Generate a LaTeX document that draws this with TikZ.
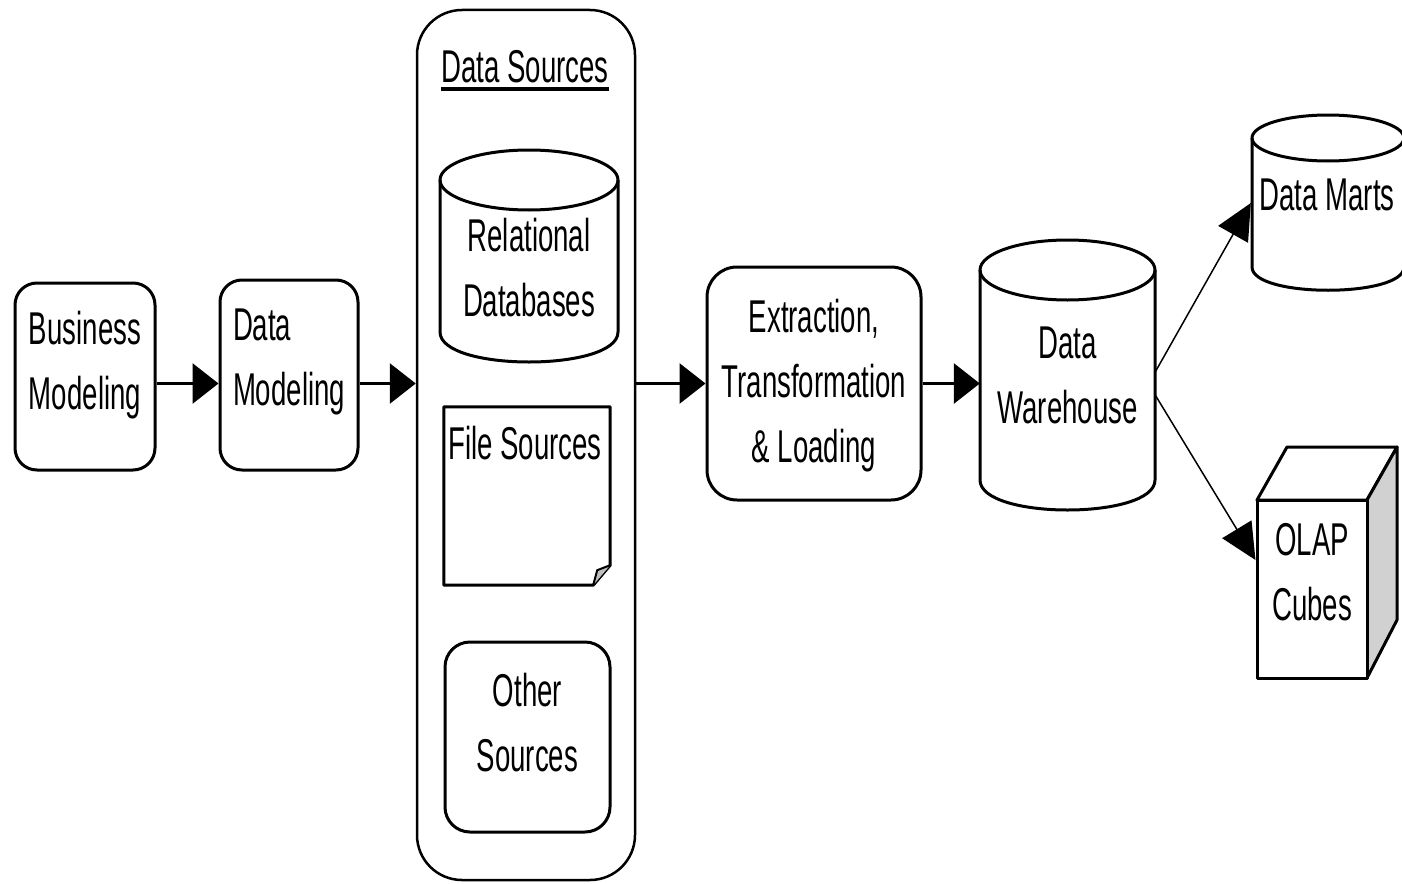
\documentclass[tikz,border=0pt]{standalone}
\usepackage{fontspec}
\setmainfont{Liberation Sans}[FakeStretch=0.6]
\usetikzlibrary{arrows.meta,calc}
\begin{document}
\begin{tikzpicture}[x=1pt,y=-1pt,line join=round,
  every node/.style={font=\fontsize{46}{65}\selectfont, inner sep=0pt},
  box/.style={draw, line width=3pt, rounded corners=22pt},
  shapeline/.style={draw, line width=3pt},
  flow/.style={line width=3pt, -{Triangle[length=26pt,width=40pt]}},
  thinflow/.style={line width=1.5pt, -{Triangle[length=36pt,width=34pt]}}]
\useasboundingbox (0,0) rectangle (1402,883);

% left boxes
\node[box, minimum width=140, minimum height=187, align=left, text depth=32pt] (bm) at (85,376.5) {Business\\Modeling};
\node[box, minimum width=138, minimum height=190, align=left, text depth=35pt] (dm) at (289,375) {Data\\Modeling};

% data sources container
\node[draw, line width=2.5pt, rounded corners=45pt, minimum width=218, minimum height=870] (ds) at (526,445) {};
\node (dst) at (525,67) {Data Sources};
\draw[line width=3.5pt] (dst.west |- 0,89) -- (dst.east |- 0,89);

% relational databases cylinder
\path[shapeline, fill=white] (440,180) -- (440,332) .. controls (440,372) and (618,372) .. (618,332) -- (618,180);
\draw[line width=3pt] (529,180) ellipse (89 and 30);
\node[align=center] (rdb) at (529,268) {Relational\\Databases};

% file sources
\node[minimum width=166, minimum height=178] (fs) at (527,496) {};
\path[shapeline] (fs.north west) -- (fs.north east) -- ($(fs.south east)+(0,-20)$) -- ($(fs.south east)+(-17,0)$) -- (fs.south west) -- cycle;
\path[draw, line width=2pt, fill=black!25] ($(fs.south east)+(-17,0)$) -- ($(fs.south east)+(-13,-15)$) -- ($(fs.south east)+(0,-20)$);
\node (fst) at (525,443) {File Sources};

% other sources
\node[box, rounded corners=25pt, minimum width=165, minimum height=190, align=center, text depth=30pt] (os) at (527.5,737) {Other\\Sources};

% ETL
\node[box, rounded corners=30pt, minimum width=214, minimum height=233, align=center, text depth=5pt] (etl) at (814,383.5) {Extraction,\\Transformation\\\& Loading};

% data warehouse cylinder
\path[shapeline, fill=white] (980,270) -- (980,480) .. controls (980,520) and (1155,520) .. (1155,480) -- (1155,270);
\draw[line width=3pt] (1067.5,270) ellipse (87.5 and 30);
\node[align=center, minimum width=175] (dw) at (1067.5,375) {Data\\Warehouse};

% data marts cylinder
\path[shapeline, fill=white] (1252,138) -- (1252,267) .. controls (1252,298) and (1404,298) .. (1404,267) -- (1404,138);
\draw[line width=3pt] (1328,138) ellipse (76 and 23);
\node[align=center, minimum width=152] (dmart) at (1327,195) {Data Marts};

% OLAP cube
\path[shapeline, fill=white] (1257,500) -- (1287,447) -- (1397,447) -- (1367,500) -- cycle;
\path[shapeline, fill=black!18] (1367,500) -- (1397,447) -- (1397,620) -- (1367,678) -- cycle;
\node[shapeline, fill=white, minimum width=110, minimum height=178, align=center, text depth=34pt] (olap) at (1312,589) {OLAP\\Cubes};

% connectors
\draw[flow] (bm.east |- etl.west) -- (dm.west |- etl.west);
\draw[flow] (dm.east |- etl.west) -- (ds.west |- etl.west);
\draw[flow] (ds.east |- etl.west) -- (etl.west);
\draw[flow] (etl.east) -- (dw.west |- etl.east);
\draw[thinflow] ([yshift=3pt]dw.east) -- ([yshift=-8pt]dmart.west);
\draw[thinflow] ([yshift=-20pt]dw.east) -- ($(olap.north west)!0.34!(olap.south west)$);
\end{tikzpicture}
\end{document}
